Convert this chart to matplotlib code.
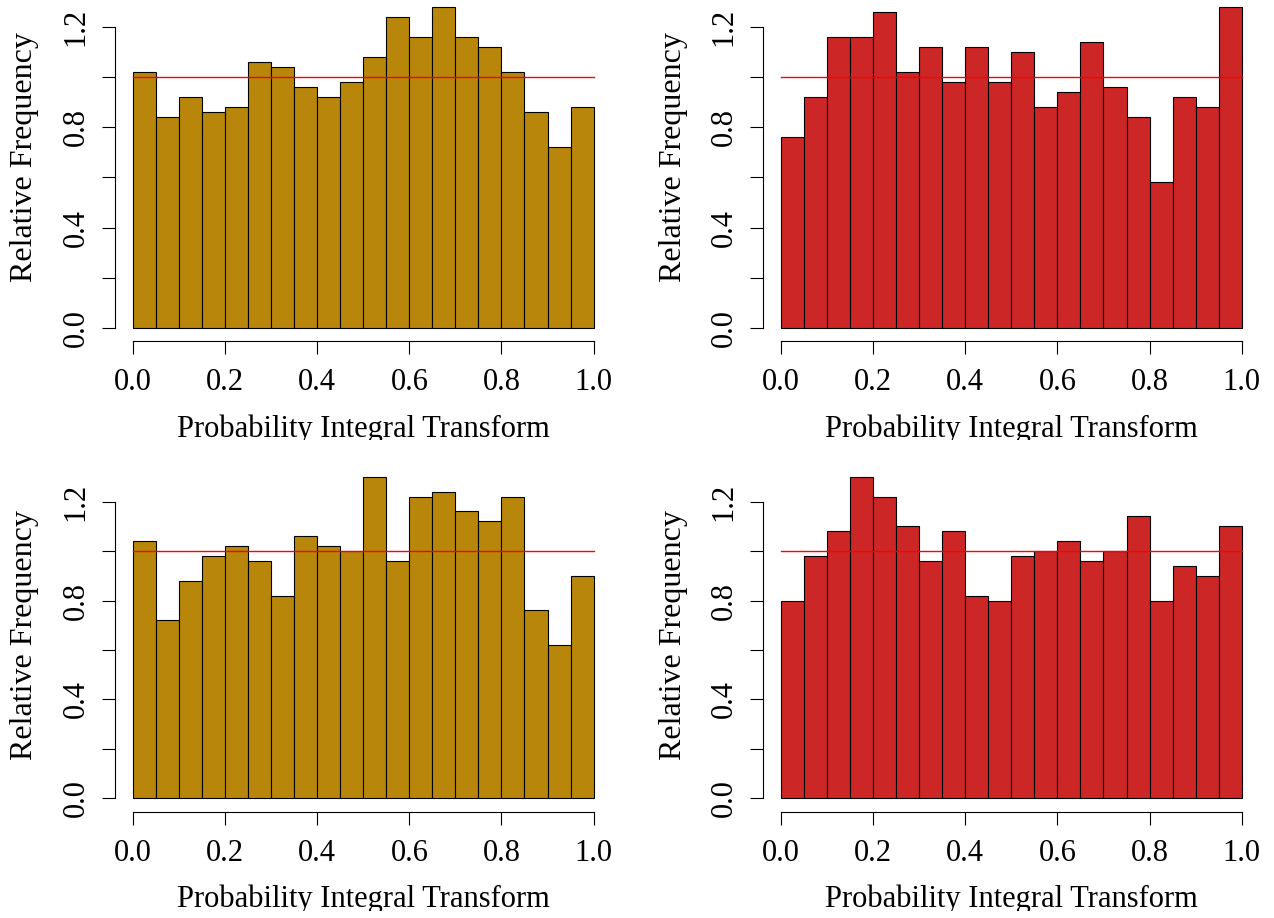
import matplotlib
matplotlib.use("Agg")
import matplotlib.pyplot as plt
import numpy as np
from matplotlib.transforms import Bbox, TransformedBbox

plt.rcParams['font.family'] = ['Liberation Serif', 'DejaVu Serif']

# bin edges of the histograms (20 bins on [0, 1])
bin_edges = np.linspace(0, 1, 21)

# relative frequency (density) per bin
top_left = [1.02, 0.84, 0.92, 0.86, 0.88, 1.06, 1.04, 0.96, 0.92, 0.98,
            1.08, 1.24, 1.16, 1.28, 1.16, 1.12, 1.02, 0.86, 0.72, 0.88]
top_right = [0.76, 0.92, 1.16, 1.16, 1.26, 1.02, 1.12, 0.98, 1.12, 0.98,
             1.10, 0.88, 0.94, 1.14, 0.96, 0.84, 0.58, 0.92, 0.88, 1.28]
bottom_left = [1.04, 0.72, 0.88, 0.98, 1.02, 0.96, 0.82, 1.06, 1.02, 1.00,
               1.30, 0.96, 1.22, 1.24, 1.16, 1.12, 1.22, 0.76, 0.62, 0.90]
bottom_right = [0.80, 0.98, 1.08, 1.30, 1.22, 1.10, 0.96, 1.08, 0.82, 0.80,
                0.98, 1.00, 1.04, 0.96, 1.00, 1.14, 0.80, 0.94, 0.90, 1.10]

x_ticks = [0.0, 0.2, 0.4, 0.6, 0.8, 1.0]
y_ticks = [0.0, 0.2, 0.4, 0.6, 0.8, 1.0, 1.2]
y_ticklabels = ["0.0", "", "0.4", "", "0.8", "", "1.2"]

gold = "#B8860B"
red = "#CD2626"

W, H = 1274, 918
fig = plt.figure(figsize=(W / 100, H / 100), dpi=100)


def px_box(x0, x1, ytop, ybot):
    return [x0 / W, 1 - ybot / H, (x1 - x0) / W, (ybot - ytop) / H]


panels = [
    # data, colour, axes box in pixels, ylim, ylabel centre y, xlabel baseline, clip y
    (top_left, gold, (114.6, 612.0, 0.0, 341.0), (-0.052, 1.306), 157, 437, 440),
    (top_right, red, (762.6, 1260.1, 0.0, 341.0), (-0.052, 1.306), 157, 437, 440),
    (bottom_left, gold, (114.6, 612.0, 463.0, 811.7), (-0.054, 1.356), 635, 907.5, 911),
    (bottom_right, red, (762.6, 1260.1, 463.0, 811.7), (-0.054, 1.356), 635, 907.5, 911),
]

for vals, col, (x0, x1, yt, yb), ylim, ylab_y, xlab_y, clip_y in panels:
    ax = fig.add_axes(px_box(x0, x1, yt, yb))
    ax.bar(bin_edges[:-1], vals, width=np.diff(bin_edges), align='edge',
           color=col, edgecolor='black', linewidth=0.8)
    ax.plot([0, 1], [1, 1], color='#FF0000', linewidth=1.0)
    ax.set_xlim(-0.04, 1.04)
    ax.set_ylim(*ylim)

    ax.spines['top'].set_visible(False)
    ax.spines['right'].set_visible(False)
    ax.spines['left'].set_bounds(0, 1.2)
    ax.spines['bottom'].set_bounds(0, 1)
    for s in ('left', 'bottom'):
        ax.spines[s].set_linewidth(0.8)

    ax.set_xticks(x_ticks)
    ax.set_xticklabels(["%.1f" % t for t in x_ticks])
    ax.set_yticks(y_ticks)
    ax.set_yticklabels(y_ticklabels)
    ax.tick_params(direction='out', length=9.4, width=0.8, labelsize=22)
    ax.tick_params(axis='x', pad=10)
    ax.tick_params(axis='y', pad=8, labelrotation=90)
    for lab in ax.get_yticklabels():
        lab.set_verticalalignment('center')

    # x label, cut off at the bottom like in the reference
    cx = (x0 + x1) / 2
    t = fig.text(cx / W, 1 - xlab_y / H, "Probability Integral Transform",
                 ha='center', va='baseline', fontsize=22)
    t.set_clip_box(TransformedBbox(Bbox.from_extents(0, 1 - clip_y / H, 1, 1),
                                   fig.transFigure))
    t.set_clip_on(True)

    fig.text((x0 - 89.6) / W, 1 - ylab_y / H, "Relative Frequency",
             rotation=90, ha='center', va='center', fontsize=23)

fig.savefig("out.png", dpi=100, facecolor='white')
